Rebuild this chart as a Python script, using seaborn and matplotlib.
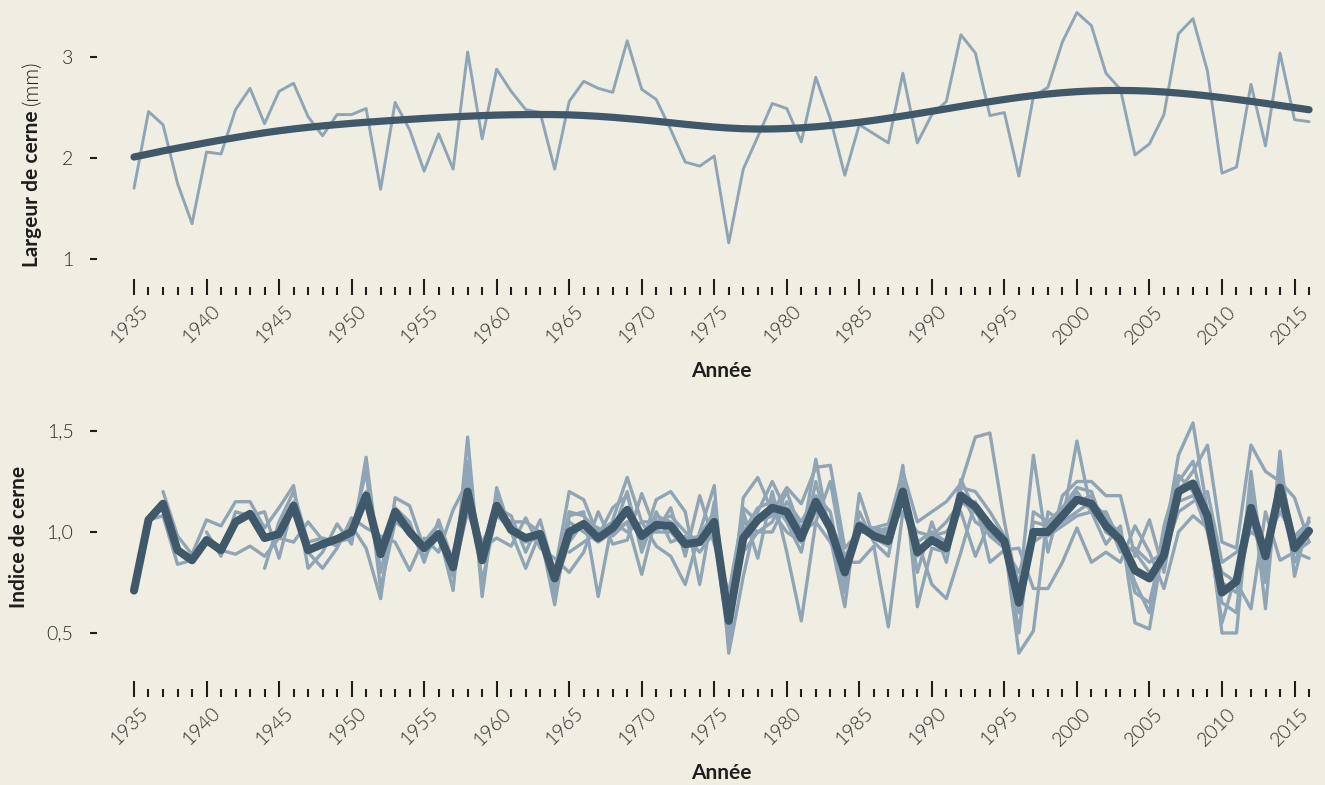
import matplotlib
matplotlib.use("Agg")

import matplotlib.pyplot as plt
import pandas as pd
import seaborn as sns
from matplotlib.ticker import FixedLocator, FuncFormatter
from matplotlib.transforms import ScaledTranslation

# ---- data ----
YEARS = list(range(1935, 2017))

# ring width of the sampled tree (mm) and its smoothed trend
RING_WIDTH = [
    1.70, 2.46, 2.33, 1.75, 1.35, 2.06, 2.04, 2.48, 2.69, 2.34,
    2.66, 2.74, 2.41, 2.22, 2.43, 2.43, 2.49, 1.69, 2.55, 2.28,
    1.87, 2.24, 1.89, 3.05, 2.19, 2.88, 2.66, 2.48, 2.45, 1.89,
    2.56, 2.76, 2.69, 2.65, 3.16, 2.68, 2.58, 2.28, 1.96, 1.92,
    2.02, 1.16, 1.89, 2.21, 2.54, 2.49, 2.16, 2.80, 2.39, 1.83,
    2.33, 2.24, 2.15, 2.84, 2.15, 2.43, 2.56, 3.22, 3.04, 2.42,
    2.45, 1.82, 2.61, 2.70, 3.15, 3.44, 3.31, 2.84, 2.68, 2.03,
    2.14, 2.43, 3.23, 3.38, 2.86, 1.85, 1.91, 2.73, 2.12, 3.04,
    2.38, 2.36,
]
RING_WIDTH_TREND = [
    2.010, 2.040, 2.070, 2.098, 2.125, 2.152, 2.178, 2.203, 2.227, 2.250,
    2.270, 2.288, 2.304, 2.318, 2.331, 2.343, 2.354, 2.364, 2.374, 2.383,
    2.392, 2.400, 2.407, 2.414, 2.420, 2.425, 2.428, 2.430, 2.431, 2.430,
    2.427, 2.421, 2.413, 2.403, 2.391, 2.378, 2.364, 2.349, 2.334, 2.320,
    2.307, 2.297, 2.290, 2.287, 2.288, 2.292, 2.299, 2.309, 2.322, 2.337,
    2.354, 2.373, 2.394, 2.416, 2.439, 2.463, 2.487, 2.511, 2.535, 2.558,
    2.580, 2.600, 2.618, 2.634, 2.647, 2.657, 2.664, 2.668, 2.669, 2.667,
    2.662, 2.654, 2.643, 2.630, 2.615, 2.598, 2.580, 2.561, 2.541, 2.520,
    2.499, 2.478,
]

# mean ring index (chronology)
INDEX_MEAN = [
    0.71, 1.06, 1.14, 0.91, 0.86, 0.96, 0.91, 1.05, 1.09, 0.97,
    0.99, 1.13, 0.91, 0.94, 0.965, 1.00, 1.18, 0.89, 1.10, 1.00,
    0.92, 0.99, 0.825, 1.20, 0.86, 1.13, 1.01, 0.97, 0.99, 0.77,
    1.00, 1.04, 0.97, 1.02, 1.11, 0.98, 1.035, 1.03, 0.94, 0.95,
    1.05, 0.56, 0.97, 1.06, 1.12, 1.10, 0.97, 1.15, 1.02, 0.80,
    1.03, 0.98, 0.955, 1.20, 0.90, 0.96, 0.92, 1.18, 1.125, 1.03,
    0.955, 0.65, 1.00, 1.00, 1.08, 1.16, 1.14, 1.03, 0.96, 0.81,
    0.77, 0.885, 1.20, 1.24, 1.08, 0.70, 0.755, 1.12, 0.88, 1.22,
    0.92, 1.005,
]

# individual tree indices: first year, then yearly values up to 2016
TREE_1_START = 1935
TREE_1 = [
    0.71, 1.06, 1.08, 0.84, 0.86, 0.95, 0.91, 0.89, 0.93, 0.88,
    0.97, 0.95, 1.05, 0.96, 0.93, 1.03, 0.92, 0.67, 1.17, 1.13,
    0.92, 1.00, 0.71, 1.47, 0.68, 1.22, 1.00, 0.98, 0.99, 0.64,
    1.08, 1.10, 0.68, 1.06, 1.27, 1.05, 0.93, 0.88, 0.74, 1.00,
    1.23, 0.40, 0.78, 1.10, 1.25, 1.10, 0.95, 1.36, 0.97, 0.63,
    1.19, 0.97, 0.93, 1.33, 0.63, 0.92, 0.90, 1.26, 1.10, 1.02,
    0.95, 0.40, 0.51, 1.10, 1.05, 1.45, 1.10, 0.94, 1.03, 0.55,
    0.52, 0.95, 1.38, 1.54, 1.10, 0.50, 0.50, 1.24, 0.62, 1.40,
    0.78, 1.07,
]
TREE_2_START = 1937
TREE_2 = [
    1.20, 0.98, 0.89, 1.06, 1.03, 1.15, 1.15, 1.02,
    1.12, 1.23, 0.82, 0.90, 1.04, 0.94, 1.37, 0.80, 1.12, 1.05,
    0.85, 1.06, 0.85, 1.30, 0.85, 1.12, 1.08, 0.90, 1.06, 0.80,
    1.20, 1.16, 0.98, 1.12, 1.18, 0.94, 1.16, 1.20, 1.10, 0.74,
    1.15, 0.55, 1.17, 1.27, 1.10, 1.22, 1.14, 1.32, 1.33, 0.92,
    1.00, 1.02, 1.04, 1.30, 1.05, 1.10, 1.15, 1.24, 1.47, 1.49,
    1.05, 0.70, 1.38, 0.90, 1.18, 1.25, 1.25, 1.18, 1.18, 0.88,
    1.06, 0.80, 1.20, 1.30, 1.43, 0.95, 0.92, 1.43, 1.30, 1.25,
    1.17, 0.95,
]
TREE_3_START = 1940
TREE_3 = [
    1.00, 0.88, 1.10, 1.08, 1.10,
    0.87, 1.15, 0.90, 0.82, 0.92, 1.07, 1.02, 0.98, 0.95, 0.81,
    0.97, 0.90, 1.11, 1.25, 0.92, 0.97, 0.93, 1.07, 0.92, 0.87,
    0.80, 0.90, 1.10, 0.94, 0.96, 1.19, 1.00, 1.12, 0.88, 1.18,
    0.94, 0.70, 1.10, 0.87, 1.20, 0.90, 0.56, 1.05, 1.25, 0.85,
    0.85, 0.93, 0.53, 1.10, 0.96, 0.74, 0.67, 0.90, 1.15, 0.85,
    0.91, 0.92, 0.72, 0.72, 0.85, 1.02, 0.85, 0.90, 0.85, 1.03,
    0.90, 0.72, 1.00, 1.08, 1.02, 0.80, 0.75, 0.62, 1.10, 0.86,
    0.90, 0.87,
]
TREE_4_START = 1944
TREE_4 = [
    0.82,
    1.05, 1.20, 0.95, 0.97, 0.95, 0.97, 1.20, 0.95, 1.08, 0.98,
    0.95, 1.04, 0.80, 1.10, 0.90, 1.18, 1.00, 0.82, 1.00, 0.72,
    0.95, 1.05, 1.02, 0.98, 1.05, 0.79, 1.08, 1.05, 0.96, 0.98,
    1.00, 0.60, 0.90, 1.00, 1.00, 1.15, 1.05, 1.18, 1.10, 0.75,
    1.05, 1.00, 1.00, 1.20, 0.95, 1.00, 0.95, 1.20, 1.05, 1.00,
    0.93, 0.60, 1.05, 1.03, 1.10, 1.20, 1.10, 1.05, 1.00, 0.70,
    0.65, 0.95, 1.25, 1.35, 1.05, 0.55, 0.80, 1.20, 0.80, 1.30,
    0.95, 1.05,
]
TREE_5_START = 1950
TREE_5 = [
    1.00, 1.30, 0.72, 1.05, 1.00,
    0.88, 0.98, 0.78, 1.35, 0.75, 1.10, 1.05, 1.05, 1.00, 0.68,
    1.05, 1.00, 0.95, 1.00, 1.20, 0.90, 1.10, 0.95, 0.98, 0.90,
    1.00, 0.45, 1.00, 1.12, 1.15, 1.05, 0.90, 1.25, 0.98, 0.70,
    1.10, 0.95, 0.88, 1.25, 0.80, 1.05, 0.85, 1.22, 1.20, 1.10,
    0.98, 0.50, 1.10, 1.05, 1.12, 1.22, 1.20, 1.00, 0.95, 0.75,
    0.60, 1.03, 1.28, 1.20, 1.00, 0.65, 0.60, 1.30, 0.75, 1.35,
    0.85, 1.00,
]
TREE_6_START = 1957
TREE_6 = [
    0.90, 1.15, 0.95, 1.08, 1.02, 0.95, 0.97, 0.75,
    1.10, 1.08, 1.00, 1.00, 1.05, 1.00, 1.00, 1.00, 0.92, 0.98,
    1.10, 0.50, 1.05, 1.00, 1.05, 1.20, 1.00, 1.05, 0.95, 0.80,
    1.00, 1.00, 0.98, 1.15, 0.90, 0.98, 1.00, 1.10, 0.88, 1.05,
    0.97, 0.75, 0.95, 1.00, 1.05, 1.10, 1.15, 1.08, 0.90, 0.92,
    0.85, 0.90, 1.10, 1.15, 1.20, 0.85, 0.90, 1.00, 0.95, 1.10,
    0.98, 1.05,
]
TREE_7_START = 1965
TREE_7 = [
    0.90, 0.95, 1.00, 1.05, 1.00, 1.05, 1.05, 1.08, 1.00, 0.95,
    1.05, 0.65, 0.95, 1.05, 1.10, 1.00, 0.95, 1.10, 1.05, 0.88,
    1.00, 1.00, 1.02, 1.10, 1.00, 0.98, 1.05, 1.15, 1.12, 0.98,
    0.92, 0.80, 1.00, 0.98, 1.03, 1.08, 1.10, 1.10, 0.95, 0.90,
    0.80, 0.85, 1.15, 1.18, 1.10, 0.75, 0.70, 1.05, 0.85, 1.15,
    0.90, 0.95,
]
TREE_8_START = 1976
TREE_8 = [
    0.55, 1.12, 1.05, 1.08, 1.12, 1.02, 1.12, 1.00, 0.85,
    1.02, 1.02, 1.00, 1.15, 0.88, 0.95, 0.95, 1.15, 1.10, 1.00,
    0.95, 0.65, 0.98, 1.02, 1.10, 1.15, 1.18, 1.00, 0.98, 0.80,
    0.78, 0.85, 1.22, 1.25, 1.05, 0.70, 0.78, 1.08, 0.90, 1.20,
    0.95, 1.02,
]

BG = "#F0EEE2"
LIGHT = "#8FA5B5"
DARK = "#3F586A"
INK = "#1E1E1E"
TICK_INK = "#2A2A2A"

W, H = 1325, 785


def trees_long() -> pd.DataFrame:
    trees = [
        (TREE_1_START, TREE_1), (TREE_2_START, TREE_2), (TREE_3_START, TREE_3),
        (TREE_4_START, TREE_4), (TREE_5_START, TREE_5), (TREE_6_START, TREE_6),
        (TREE_7_START, TREE_7), (TREE_8_START, TREE_8),
    ]
    frames = []
    for i, (start, values) in enumerate(trees, 1):
        assert start + len(values) - 1 == 2016, (i, len(values))
        frames.append(pd.DataFrame({
            "year": range(start, start + len(values)),
            "index": values,
            "tree": f"T{i}",
        }))
    return pd.concat(frames, ignore_index=True)


def px_axes(fig, left, top, right, bottom):
    return fig.add_axes([left / W, 1 - bottom / H, (right - left) / W, (bottom - top) / H])


def style_axis(ax, fig, yticks, fmt):
    for s in ax.spines.values():
        s.set_visible(False)
    ax.set_facecolor(BG)
    ax.set_xlim(1932.45, 2016.55)
    ax.xaxis.set_major_locator(FixedLocator(range(1935, 2017, 5)))
    ax.xaxis.set_minor_locator(FixedLocator([y for y in range(1935, 2017) if y % 5]))
    ax.yaxis.set_major_locator(FixedLocator(yticks))
    ax.yaxis.set_major_formatter(FuncFormatter(fmt))
    ax.tick_params(axis="x", which="major", direction="in", length=11.5, width=1.5,
                   color=INK, pad=5.5, labelsize=14, labelcolor=TICK_INK, bottom=True)
    ax.tick_params(axis="x", which="minor", direction="in", length=5.8, width=1.5,
                   color=INK, bottom=True)
    ax.tick_params(axis="y", which="major", direction="out", length=5, width=1.5,
                   color=INK, pad=12, labelsize=14, labelcolor=TICK_INK, left=True)
    shift = ScaledTranslation(5 / 100, 0, fig.dpi_scale_trans)
    for lab in ax.get_xticklabels():
        lab.set_rotation(45)
        lab.set_ha("right")
        lab.set_va("top")
        lab.set_rotation_mode("anchor")
        lab.set_fontweight(300)
        lab.set_transform(lab.get_transform() + shift)
    for lab in ax.get_yticklabels():
        lab.set_fontweight(300)
    ax.grid(False)


def main() -> None:
    sns.set_theme(style="white")
    plt.rcParams["font.family"] = ["Lato", "DejaVu Sans"]

    fig = plt.figure(figsize=(W / 100, H / 100), dpi=100)
    fig.patch.set_facecolor(BG)

    # ---- top: ring width ----
    ax1 = px_axes(fig, 97, 6, 1317, 295)
    width_df = pd.DataFrame({"year": YEARS, "width": RING_WIDTH, "trend": RING_WIDTH_TREND})
    sns.lineplot(data=width_df, x="year", y="width", color=LIGHT, linewidth=2.1, ax=ax1)
    sns.lineplot(data=width_df, x="year", y="trend", color=DARK, linewidth=5.2, ax=ax1,
                 solid_capstyle="round", solid_joinstyle="round")
    ax1.set_ylim(0.644, 3.505)
    style_axis(ax1, fig, [1, 2, 3], lambda v, _: f"{v:.0f}")
    ax1.set_xlabel("Année", fontsize=15, fontweight="bold", color=INK)
    ax1.xaxis.set_label_coords(0.512, -0.228)
    ylab = ax1.set_ylabel("Largeur de cerne", fontsize=15, fontweight="bold", color=INK)
    ax1.yaxis.set_label_coords(-0.045, 0.367)
    ax1.annotate("(mm)", xy=(0.5, 1.0), xycoords=ylab, xytext=(0, 4),
                 textcoords="offset points", rotation=90, ha="center", va="bottom",
                 fontsize=15, fontweight=300, color=INK)

    # ---- bottom: ring index ----
    ax2 = px_axes(fig, 97, 410, 1317, 697)
    sns.lineplot(data=trees_long(), x="year", y="index", units="tree", estimator=None,
                 color=LIGHT, linewidth=2.4, ax=ax2)
    mean_df = pd.DataFrame({"year": YEARS, "index": INDEX_MEAN})
    sns.lineplot(data=mean_df, x="year", y="index", color=DARK, linewidth=5.8, ax=ax2,
                 solid_capstyle="round", solid_joinstyle="round")
    ax2.set_ylim(0.183, 1.604)
    style_axis(ax2, fig, [0.5, 1.0, 1.5], lambda v, _: f"{v:.1f}".replace(".", ","))
    ax2.set_xlabel("Année", fontsize=15, fontweight="bold", color=INK)
    ax2.xaxis.set_label_coords(0.512, -0.230)
    ax2.set_ylabel("Indice de cerne", fontsize=15, fontweight="bold", color=INK)
    ax2.yaxis.set_label_coords(-0.056, 0.557)

    fig.savefig("out.png", dpi=100, facecolor=BG)
    plt.close(fig)


if __name__ == "__main__":
    main()
